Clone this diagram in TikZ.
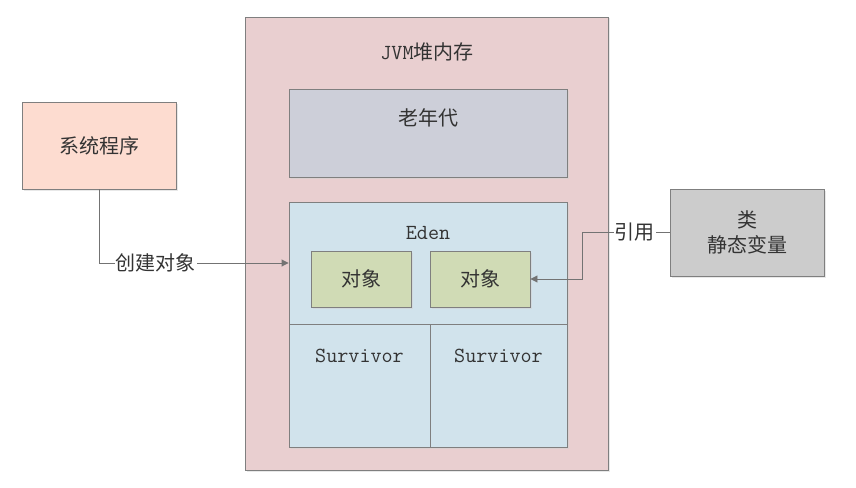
\documentclass[tikz,border=0pt]{standalone}
\usepackage{fontspec}
\newfontfamily\cjk{Noto Sans CJK SC}
\usetikzlibrary{arrows.meta,positioning,shadows}

\definecolor{heapfill}{HTML}{E9CFD0}
\definecolor{oldfill}{HTML}{CDCFD9}
\definecolor{edenfill}{HTML}{D1E3EC}
\definecolor{objfill}{HTML}{D0DBB5}
\definecolor{sysfill}{HTML}{FDDCD0}
\definecolor{clsfill}{HTML}{CCCCCC}
\definecolor{boxline}{HTML}{7F7F7F}
\definecolor{arrline}{HTML}{737373}
\definecolor{txt}{HTML}{333333}

\begin{document}
\begin{tikzpicture}[
    x=1pt, y=-1pt,
    every node/.style={text=txt, font=\ttfamily\fontsize{21.5}{25}\selectfont},
    box/.style={draw=boxline, line width=0.9pt, inner sep=0pt,
        drop shadow={shadow xshift=1.5pt, shadow yshift=-1.5pt, fill=black!18}},
    lbl/.style={fill=white, inner sep=1pt},
    arr/.style={-{Triangle[length=7pt,width=7pt]}, draw=arrline, line width=0.9pt}
]
\useasboundingbox (0,0) rectangle (856,487);

% heap and its regions
\node[box, fill=heapfill, minimum width=363pt, minimum height=453pt] (heap) at (426.5,243.5) {};
\node (heaplbl) at (427,52) {JVM{\cjk\fontsize{20}{25}\selectfont 堆内存}};
\node[box, fill=oldfill, minimum width=278pt, minimum height=88pt] (old) at (428,133) {};
\node (oldlbl) at (428,118) {\cjk\fontsize{20}{25}\selectfont 老年代};
\node[box, fill=edenfill, minimum width=278pt, minimum height=122pt] (eden) at (428,263) {};
\node (edenlbl) at (428,233) {Eden};
\node[box, fill=edenfill, minimum width=141pt, minimum height=123pt] (surv1) at (359.5,385.5) {};
\node[box, fill=edenfill, minimum width=137pt, minimum height=123pt] (surv2) at (498.5,385.5) {};
\node (surv1lbl) at (359.5,356) {Survivor};
\node (surv2lbl) at (498.5,356) {Survivor};
\node[box, fill=objfill, minimum width=100pt, minimum height=56pt] (obj1) at (361,279) {\cjk\fontsize{20}{25}\selectfont 对象};
\node[box, fill=objfill, minimum width=100pt, minimum height=56pt] (obj2) at (480,279) {\cjk\fontsize{20}{25}\selectfont 对象};

% outside
\node[box, fill=sysfill, minimum width=154pt, minimum height=87pt] (sys) at (99,145.5) {\cjk\fontsize{20}{25}\selectfont 系统程序};
\node[box, fill=clsfill, minimum width=154pt, minimum height=87pt, align=center,
    font=\cjk\fontsize{20}{25}\selectfont] (cls) at (747,232.5) {类\\静态变量};
\coordinate (turn) at (582,0);

\draw[arr] (sys.south) |- node[lbl, pos=0.65, font=\cjk\fontsize{20}{25}\selectfont] {创建对象} (eden.west);
\draw[arr] (cls.west) -- node[lbl, pos=0.4, font=\cjk\fontsize{20}{25}\selectfont] {引用} (cls.west -| turn) |- (obj2.east);
\end{tikzpicture}
\end{document}
